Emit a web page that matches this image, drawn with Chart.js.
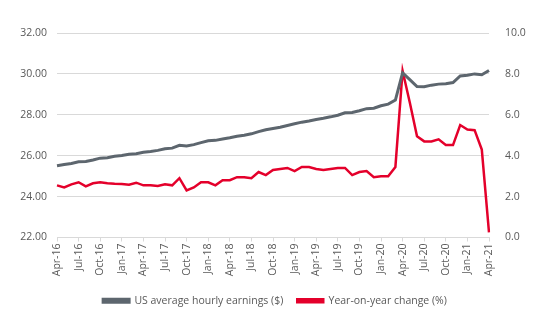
<!DOCTYPE html>
<html>
<head>
<meta charset="utf-8">
<script src="https://cdn.jsdelivr.net/npm/chart.js@4/dist/chart.umd.min.js"></script>
<style>
  html, body { margin: 0; padding: 0; background: #fff; }
  #wrap { width: 550px; height: 330px; position: relative; }
</style>
</head>
<body>
<div id="wrap"><canvas id="chart"></canvas></div>
<script>
// monthly, Apr-16 .. Apr-21
const months = [
  "Apr-16","May-16","Jun-16","Jul-16","Aug-16","Sep-16","Oct-16","Nov-16","Dec-16",
  "Jan-17","Feb-17","Mar-17","Apr-17","May-17","Jun-17","Jul-17","Aug-17","Sep-17","Oct-17","Nov-17","Dec-17",
  "Jan-18","Feb-18","Mar-18","Apr-18","May-18","Jun-18","Jul-18","Aug-18","Sep-18","Oct-18","Nov-18","Dec-18",
  "Jan-19","Feb-19","Mar-19","Apr-19","May-19","Jun-19","Jul-19","Aug-19","Sep-19","Oct-19","Nov-19","Dec-19",
  "Jan-20","Feb-20","Mar-20","Apr-20","May-20","Jun-20","Jul-20","Aug-20","Sep-20","Oct-20","Nov-20","Dec-20",
  "Jan-21","Feb-21","Mar-21","Apr-21"
];

const hourlyEarnings = [
  25.51, 25.57, 25.62, 25.70, 25.72, 25.79, 25.88, 25.90, 25.97,
  26.01, 26.07, 26.10, 26.17, 26.21, 26.26, 26.34, 26.37, 26.51, 26.47, 26.54, 26.64,
  26.73, 26.75, 26.82, 26.88, 26.95, 27.00, 27.07, 27.18, 27.27, 27.33, 27.39, 27.48,
  27.56, 27.64, 27.70, 27.77, 27.83, 27.90, 27.98, 28.10, 28.11, 28.20, 28.30, 28.32,
  28.44, 28.52, 28.72, 30.05, 29.72, 29.38, 29.37, 29.45, 29.50, 29.52, 29.58, 29.90,
  29.93, 30.00, 29.96, 30.17
];

const yoyChange = [
  2.55, 2.45, 2.60, 2.70, 2.50, 2.65, 2.70, 2.65, 2.63,
  2.62, 2.58, 2.68, 2.55, 2.55, 2.52, 2.60, 2.55, 2.90, 2.30, 2.45, 2.70,
  2.70, 2.55, 2.80, 2.80, 2.95, 2.95, 2.90, 3.20, 3.05, 3.30, 3.35, 3.40,
  3.25, 3.45, 3.45, 3.35, 3.30, 3.35, 3.40, 3.40, 3.05, 3.20, 3.25, 2.95,
  3.00, 3.00, 3.45, 8.15, 6.60, 4.95, 4.70, 4.70, 4.80, 4.52, 4.52, 5.50,
  5.28, 5.25, 4.30, 0.25
];

const leftTicks = [22, 24, 26, 28, 30, 32];
const rightTicks = [0, 2, 4, 6, 8, 10];

const textColor = "#595959";
const gridColor = "#d9d9d9";
const grey = "#5d666e";
const red = "#e4002b";
const font = { family: "'Open Sans', 'Liberation Sans', sans-serif", size: 10.5 };

new Chart(document.getElementById("chart"), {
  type: "line",
  data: {
    labels: months,
    datasets: [
      {
        label: "US average hourly earnings ($)",
        data: hourlyEarnings,
        borderColor: grey,
        backgroundColor: grey,
        borderWidth: 3,
        pointRadius: 0,
        tension: 0,
        yAxisID: "y"
      },
      {
        label: "Year-on-year change (%)",
        data: yoyChange,
        borderColor: red,
        backgroundColor: red,
        borderWidth: 2.5,
        pointRadius: 0,
        tension: 0,
        yAxisID: "y1"
      }
    ]
  },
  options: {
    responsive: true,
    maintainAspectRatio: false,
    animation: false,
    layout: { padding: { top: 33, left: 0, right: 0, bottom: 14 } },
    plugins: {
      tooltip: { enabled: false },
      legend: {
        position: "bottom",
        labels: {
          color: textColor,
          font: font,
          boxWidth: 26,
          boxHeight: 3,
          padding: 14
        }
      }
    },
    scales: {
      x: {
        offset: false,
        border: { color: gridColor },
        grid: {
          drawOnChartArea: false,
          tickLength: 4,
          color: (ctx) => (ctx.index % 3 === 0 ? gridColor : "transparent")
        },
        ticks: {
          autoSkip: false,
          maxRotation: 90,
          minRotation: 90,
          color: textColor,
          font: font,
          padding: 2,
          callback: function (v, i) { return i % 3 === 0 ? months[i] : ""; }
        },
        afterFit: (scale) => { scale.height = 44; }
      },
      y: {
        position: "left",
        min: 22,
        max: 32,
        border: { display: false },
        grid: { color: gridColor, drawTicks: false },
        afterBuildTicks: (scale) => { scale.ticks = leftTicks.map(v => ({ value: v })); },
        ticks: {
          color: textColor,
          font: font,
          padding: 10,
          callback: (v) => v.toFixed(2)
        },
        afterFit: (scale) => { scale.width = 57; }
      },
      y1: {
        position: "right",
        min: 0,
        max: 10,
        border: { display: false },
        grid: { drawOnChartArea: false, drawTicks: false },
        afterBuildTicks: (scale) => { scale.ticks = rightTicks.map(v => ({ value: v })); },
        ticks: {
          color: textColor,
          font: font,
          padding: 16,
          callback: (v) => v.toFixed(1)
        },
        afterFit: (scale) => { scale.width = 61; }
      }
    }
  }
});
</script>
</body>
</html>
